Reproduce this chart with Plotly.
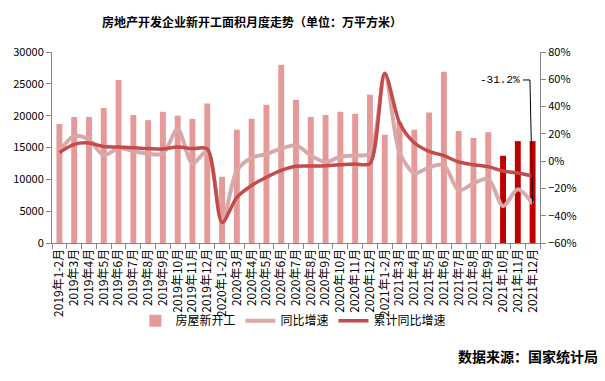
import plotly.graph_objects as go

categories = [
    "2019年1-2月", "2019年3月", "2019年4月", "2019年5月", "2019年6月", "2019年7月",
    "2019年8月", "2019年9月", "2019年10月", "2019年11月", "2019年12月",
    "2020年1-2月", "2020年3月", "2020年4月", "2020年5月", "2020年6月", "2020年7月",
    "2020年8月", "2020年9月", "2020年10月", "2020年11月", "2020年12月",
    "2021年1-2月", "2021年3月", "2021年4月", "2021年5月", "2021年6月", "2021年7月",
    "2021年8月", "2021年9月", "2021年10月", "2021年11月", "2021年12月",
]

new_starts = [18700, 19800, 19800, 21200, 25600, 20100, 19300, 20600, 20000, 19500, 21900,
              10400, 17800, 19500, 21700, 28000, 22500, 19800, 20100, 20600, 20300, 23300,
              17000, 19000, 17800, 20500, 26900, 17600, 16500, 17400, 13700, 16000, 16000]

yoy = [7.0, 18.5, 15.8, 4.3, 9.6, 7.4, 5.5, 5.5, 23.5, -1.8, 7.3,
       -44.3, -7.0, 2.5, 5.2, 9.2, 11.6, 4.2, -0.8, 3.4, 4.2, 5.5,
       64.5, 6.3, -8.7, -4.6, -2.8, -21.5, -16.3, -13.0, -33.0, -20.6, -31.2]

cum_yoy = [6.3, 12.3, 13.3, 10.7, 10.4, 9.8, 9.2, 8.9, 10.3, 9.2, 9.0,
           -45.0, -26.5, -17.8, -11.8, -6.8, -3.8, -3.6, -3.3, -2.7, -2.1, -1.8,
           64.3, 28.2, 13.5, 7.2, 4.0, -0.6, -2.6, -4.0, -7.2, -8.7, -10.9]

highlight_last = 3
BAR = "#E59999"
BAR_HI = "#C00000"
LIGHT = "#D9A8A8"
DARK = "#C34B4B"
AX = "#868686"
FONT = "Noto Sans CJK SC"

bar_colors = [BAR] * (len(categories) - highlight_last) + [BAR_HI] * highlight_last

fig = go.Figure()
fig.add_trace(go.Bar(x=categories, y=new_starts, name="房屋新开工",
                     marker=dict(color=bar_colors, line=dict(width=0)), yaxis="y"))
fig.add_trace(go.Scatter(x=categories, y=yoy, name="同比增速", mode="lines",
                         line=dict(color=LIGHT, width=4, shape="spline", smoothing=0.8),
                         yaxis="y2"))
fig.add_trace(go.Scatter(x=categories, y=cum_yoy, name="累计同比增速", mode="lines",
                         line=dict(color=DARK, width=3.5, shape="spline", smoothing=0.8),
                         yaxis="y2"))

last_i = len(categories) - 1
label_level = 59.5
fig.add_shape(type="path", xref="x", yref="y2",
              path=f"M {last_i} {yoy[-1]} L {last_i - 0.18} {label_level} L {last_i - 0.65} {label_level}",
              line=dict(color="black", width=1))
fig.add_annotation(x=last_i - 0.72, y=label_level, xref="x", yref="y2",
                   text=f"{yoy[-1]}%", showarrow=False, xanchor="right", yanchor="middle",
                   font=dict(family="Liberation Mono", size=11, color="black"))

fig.add_annotation(x=(600 - 52) / 488, y=(243 - 356) / 191, xref="paper", yref="paper",
                   text="<b>数据来源：国家统计局</b>", showarrow=False,
                   xanchor="right", yanchor="middle",
                   font=dict(family=FONT, size=14, color="black"))

fig.update_layout(
    width=605, height=381,
    margin=dict(l=52, r=65, t=52, b=138, autoexpand=False),
    paper_bgcolor="white", plot_bgcolor="white",
    font=dict(family=FONT, size=11, color="black"),
    title=dict(text="<b>房地产开发企业新开工面积月度走势（单位：万平方米）</b>",
               x=0.4165, xanchor="center", y=0.94, yanchor="middle",
               font=dict(family=FONT, size=12, color="black")),
    bargap=0.6,
    showlegend=True,
    legend=dict(orientation="h", x=0.485, xanchor="center", y=0.158, yanchor="middle",
                xref="container", yref="container",
                bgcolor="rgba(0,0,0,0)", font=dict(family=FONT, size=12),
                itemwidth=30, tracegroupgap=0),
    xaxis=dict(type="category", tickangle=-90, showline=True, linecolor=AX, linewidth=1,
               ticks="outside", tickson="boundaries", ticklen=5, tickcolor=AX,
               showgrid=False, automargin=False, tickfont=dict(family=FONT, size=12)),
    yaxis=dict(range=[0, 30000], dtick=5000, tickformat="d", showline=True, linecolor=AX,
               linewidth=1, ticks="outside", ticklen=5, tickcolor=AX, showgrid=False,
               zeroline=False, automargin=False, tickfont=dict(family=FONT, size=11)),
    yaxis2=dict(range=[-60, 80], dtick=20, overlaying="y", side="right", ticksuffix="%",
                showline=True, linecolor=AX, linewidth=1, ticks="outside", ticklen=5,
                tickcolor=AX, showgrid=False, zeroline=False, automargin=False,
                tickfont=dict(family=FONT, size=11)),
)

fig.write_html("out.html",
               config={"displayModeBar": False},
               post_script="document.body.style.margin='0px';document.body.style.padding='0px';")
